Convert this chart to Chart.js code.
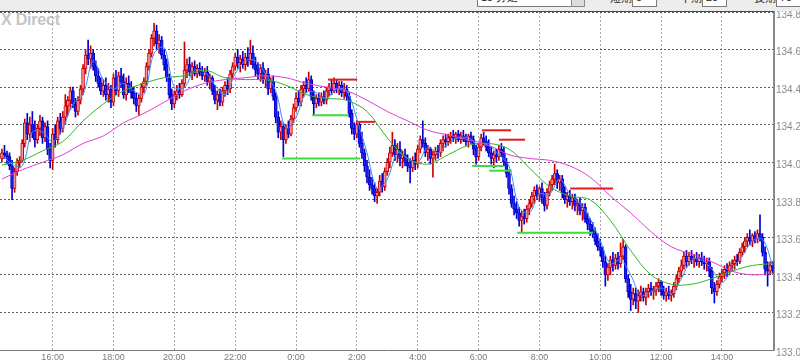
<!DOCTYPE html>
<html><head><meta charset="utf-8">
<script src="https://cdn.jsdelivr.net/npm/chart.js@4.4.0/dist/chart.umd.min.js"></script>
<style>
html,body{margin:0;padding:0;background:#fff;overflow:hidden}
#wrap{position:relative;width:800px;height:362px;overflow:hidden;font-family:"Liberation Sans",Arial,sans-serif}
#strip{position:absolute;left:0;top:0;width:800px;height:11px;background:#ececec;overflow:hidden}
#topline{position:absolute;left:0;top:11px;width:774px;height:1px;background:#4a4a4a}
#wm{position:absolute;left:1px;top:11px;font:bold 16px "Liberation Sans",Arial,sans-serif;color:#c4c4c4;letter-spacing:-0.2px}
canvas{position:absolute;left:0;top:0}
.box{position:absolute;top:-10px;height:17px;background:#fff;border:1px solid #7c7c7c;box-sizing:border-box;font:11px "Liberation Sans",Arial,sans-serif;line-height:13px;padding-left:3px;color:#222}
.lbl{position:absolute;top:-11px;font:11px "Noto Sans CJK JP",sans-serif;color:#222}
.btn{position:absolute;top:-10px;height:17px;width:14px;background:#dcdcdc;border:1px solid #8a8a8a;box-sizing:border-box}
</style></head>
<body>
<div id="wrap">
  <div id="wm">X Direct</div>
  <canvas id="c" width="800" height="362"></canvas>
  <div id="strip">
    <div class="box" style="left:477px;width:95px">15 分足</div>
    <div class="btn" style="left:571px"></div>
    <div class="lbl" style="left:610px">短期</div>
    <div class="box" style="left:632px;width:25px">5</div>
    <div class="lbl" style="left:680px">中期</div>
    <div class="box" style="left:702px;width:25px">25</div>
    <div class="lbl" style="left:754px">長期</div>
    <div class="box" style="left:776px;width:26px">75</div>
  </div>
  <div id="topline"></div>
</div>
<script>
// 5-minute candles starting 14:20 (hours, day 1; 24 = 0:00 next day)
const candleStart = 14 + 20/60;
const candleMinutes = 5;

const open = [
134.02,134.05,134.04,134.03,133.98,133.86,133.95,134.00,134.01,134.10,
134.21,134.15,134.20,134.16,134.12,134.18,134.22,134.13,134.19,134.07,
134.01,134.15,134.12,134.22,134.18,134.24,134.30,134.33,134.38,134.31,
134.27,134.33,134.39,134.50,134.57,134.55,134.58,134.51,134.46,134.42,
134.38,134.41,134.36,134.39,134.32,134.45,134.38,134.46,134.43,134.36,
134.42,134.40,134.37,134.34,134.30,134.34,134.40,134.43,134.51,134.58,
134.66,134.70,134.63,134.65,134.57,134.52,134.45,134.36,134.31,134.36,
134.38,134.36,134.42,134.49,134.52,134.48,134.51,134.47,134.50,134.48,
134.46,134.48,134.43,134.45,134.38,134.33,134.36,134.32,134.38,134.41,
134.39,134.47,134.51,134.56,134.53,134.55,134.52,134.56,134.54,134.58,
134.52,134.49,134.47,134.50,134.44,134.47,134.39,134.43,134.35,134.24,
134.16,134.19,134.12,134.18,134.15,134.23,134.29,134.34,134.32,134.39,
134.41,134.39,134.44,134.35,134.31,134.34,134.32,134.35,134.33,134.38,
134.40,134.38,134.42,134.39,134.41,134.37,134.39,134.35,134.26,134.18,
134.15,134.20,134.10,134.05,133.98,133.92,133.88,133.86,133.82,133.84,
133.90,133.87,133.95,134.00,134.05,134.09,134.04,134.07,134.02,134.04,
134.00,133.98,133.97,134.01,133.99,134.07,134.12,134.10,134.05,134.07,
134.02,134.04,134.06,134.05,134.10,134.12,134.11,134.13,134.14,134.13,
134.15,134.12,134.14,134.13,134.11,134.14,134.12,134.07,134.03,134.08,
134.13,134.11,134.08,134.05,134.02,134.04,134.03,134.07,134.05,134.00,
133.94,133.86,133.78,133.75,133.73,133.69,133.71,133.70,133.75,133.78,
133.82,133.85,133.83,133.86,133.81,133.77,133.84,133.88,133.91,133.94,
133.89,133.91,133.84,133.80,133.82,133.79,133.81,133.77,133.78,133.74,
133.76,133.70,133.67,133.64,133.62,133.58,133.55,133.53,133.47,133.40,
133.44,133.48,133.45,133.49,133.46,133.50,133.55,133.38,133.31,133.27,
133.30,133.26,133.29,133.31,133.28,133.31,133.33,133.31,133.32,133.34,
133.36,133.31,133.29,133.31,133.29,133.30,133.34,133.38,133.42,133.45,
133.50,133.47,133.50,133.48,133.49,133.47,133.49,133.47,133.46,133.47,
133.42,133.33,133.31,133.35,133.39,133.41,133.43,133.42,133.45,133.46,
133.48,133.47,133.52,133.55,133.58,133.60,133.58,133.61,133.59,133.62,
133.60,133.52,133.43,133.42,133.45];

const high = [
134.07,134.09,134.06,134.05,134.01,133.97,134.02,134.03,134.12,134.23,
134.26,134.24,134.27,134.22,134.20,134.25,134.24,134.21,134.22,134.10,
134.18,134.20,134.24,134.26,134.27,134.36,134.35,134.40,134.40,134.34,
134.35,134.41,134.52,134.60,134.65,134.62,134.60,134.54,134.50,134.45,
134.44,134.45,134.42,134.41,134.47,134.49,134.48,134.50,134.47,134.45,
134.46,134.43,134.40,134.37,134.36,134.42,134.45,134.53,134.60,134.68,
134.74,134.73,134.68,134.67,134.60,134.55,134.47,134.39,134.38,134.41,
134.42,134.44,134.64,134.55,134.56,134.53,134.54,134.52,134.53,134.51,
134.50,134.51,134.47,134.46,134.41,134.38,134.39,134.40,134.43,134.45,
134.49,134.53,134.58,134.60,134.57,134.59,134.58,134.61,134.65,134.62,
134.56,134.53,134.52,134.53,134.49,134.50,134.45,134.46,134.37,134.27,
134.22,134.21,134.20,134.22,134.25,134.31,134.37,134.38,134.41,134.43,
134.45,134.48,134.46,134.38,134.36,134.37,134.37,134.38,134.40,134.42,
134.44,134.45,134.44,134.43,134.43,134.42,134.41,134.37,134.28,134.21,
134.22,134.21,134.16,134.07,134.01,133.96,133.92,133.89,133.86,133.93,
133.94,133.97,134.02,134.08,134.16,134.12,134.10,134.11,134.06,134.07,
134.04,134.02,134.03,134.05,134.09,134.14,134.22,134.13,134.09,134.08,
134.06,134.08,134.09,134.12,134.14,134.15,134.15,134.16,134.17,134.16,
134.17,134.16,134.17,134.15,134.15,134.16,134.14,134.09,134.10,134.15,
134.16,134.14,134.12,134.08,134.06,134.07,134.09,134.10,134.08,134.02,
133.96,133.88,133.82,133.79,133.76,133.74,133.75,133.77,133.80,133.84,
133.87,133.88,133.87,133.89,133.84,133.86,133.90,133.93,133.99,133.96,
133.93,133.93,133.87,133.84,133.85,133.83,133.83,133.80,133.81,133.78,
133.78,133.73,133.70,133.68,133.65,133.62,133.59,133.55,133.50,133.46,
133.50,133.52,133.51,133.52,133.57,133.59,133.56,133.40,133.35,133.33,
133.33,133.32,133.34,133.33,133.33,133.35,133.36,133.34,133.36,133.38,
133.37,133.34,133.33,133.34,133.32,133.36,133.40,133.44,133.48,133.52,
133.53,133.52,133.53,133.51,133.52,133.51,133.52,133.50,133.49,133.49,
133.44,133.36,133.37,133.41,133.43,133.45,133.46,133.47,133.48,133.50,
133.51,133.54,133.57,133.60,133.62,133.64,133.62,133.63,133.64,133.72,
133.62,133.55,133.47,133.47,133.47];

const low = [
134.00,134.02,133.99,133.96,133.80,133.84,133.93,133.97,134.00,134.08,
134.12,134.11,134.13,134.08,134.10,134.14,134.10,134.11,134.04,133.97,
133.96,134.08,134.10,134.15,134.16,134.20,134.25,134.28,134.29,134.24,
134.25,134.31,134.36,134.47,134.52,134.50,134.49,134.43,134.40,134.36,
134.35,134.33,134.32,134.29,134.30,134.36,134.35,134.40,134.34,134.33,
134.37,134.34,134.31,134.27,134.25,134.32,134.37,134.41,134.49,134.56,
134.62,134.60,134.58,134.55,134.49,134.43,134.34,134.28,134.29,134.33,
134.34,134.35,134.40,134.45,134.46,134.44,134.46,134.45,134.46,134.44,
134.43,134.41,134.39,134.36,134.31,134.28,134.30,134.30,134.35,134.36,
134.37,134.45,134.49,134.50,134.48,134.50,134.49,134.51,134.52,134.50,
134.46,134.44,134.43,134.42,134.40,134.36,134.37,134.33,134.21,134.13,
134.12,134.03,134.10,134.13,134.14,134.21,134.27,134.30,134.30,134.35,
134.37,134.38,134.33,134.25,134.29,134.30,134.30,134.31,134.31,134.35,
134.36,134.37,134.37,134.36,134.35,134.34,134.33,134.24,134.15,134.12,
134.13,134.08,134.02,133.95,133.89,133.85,133.83,133.79,133.78,133.82,
133.84,133.85,133.93,133.97,134.03,134.01,134.00,133.98,133.97,133.98,
133.95,133.89,133.95,133.96,133.97,134.05,134.08,134.03,134.01,133.99,
133.92,134.01,134.02,134.03,134.06,134.08,134.09,134.10,134.11,134.10,
134.11,134.10,134.11,134.09,134.08,134.10,134.04,133.99,134.01,134.06,
134.09,134.06,134.03,133.99,133.97,134.00,134.01,134.03,133.98,133.92,
133.83,133.76,133.72,133.70,133.66,133.63,133.67,133.68,133.72,133.76,
133.78,133.80,133.79,133.78,133.74,133.75,133.82,133.85,133.88,133.86,
133.85,133.81,133.78,133.76,133.77,133.75,133.74,133.72,133.72,133.69,
133.68,133.64,133.61,133.60,133.56,133.53,133.50,133.44,133.34,133.37,
133.40,133.42,133.43,133.43,133.44,133.48,133.36,133.28,133.21,133.24,
133.22,133.20,133.26,133.26,133.24,133.28,133.29,133.27,133.29,133.31,
133.29,133.27,133.26,133.27,133.26,133.28,133.32,133.36,133.39,133.43,
133.44,133.45,133.46,133.44,133.45,133.44,133.45,133.43,133.42,133.39,
133.30,133.25,133.29,133.33,133.36,133.38,133.39,133.40,133.42,133.43,
133.45,133.46,133.50,133.52,133.55,133.56,133.55,133.57,133.57,133.58,
133.50,133.40,133.34,133.40,133.41];

const close = [
134.05,134.04,134.03,133.98,133.86,133.95,134.00,134.01,134.10,134.21,
134.15,134.20,134.16,134.12,134.18,134.22,134.13,134.19,134.07,134.01,
134.15,134.12,134.22,134.18,134.24,134.30,134.33,134.38,134.31,134.27,
134.33,134.39,134.50,134.57,134.55,134.58,134.51,134.46,134.42,134.38,
134.41,134.36,134.39,134.32,134.45,134.38,134.46,134.43,134.36,134.42,
134.40,134.37,134.34,134.30,134.34,134.40,134.43,134.51,134.58,134.66,
134.70,134.63,134.65,134.57,134.52,134.45,134.36,134.31,134.36,134.38,
134.36,134.42,134.49,134.52,134.48,134.51,134.47,134.50,134.48,134.46,
134.48,134.43,134.45,134.38,134.33,134.36,134.32,134.38,134.41,134.39,
134.47,134.51,134.56,134.53,134.55,134.52,134.56,134.54,134.58,134.52,
134.49,134.47,134.50,134.44,134.47,134.39,134.43,134.35,134.24,134.16,
134.19,134.12,134.18,134.15,134.23,134.29,134.34,134.32,134.39,134.41,
134.39,134.44,134.35,134.31,134.34,134.32,134.35,134.33,134.38,134.40,
134.38,134.42,134.39,134.41,134.37,134.39,134.35,134.26,134.18,134.15,
134.20,134.10,134.05,133.98,133.92,133.88,133.86,133.82,133.84,133.90,
133.87,133.95,134.00,134.05,134.09,134.04,134.07,134.02,134.04,134.00,
133.98,133.97,134.01,133.99,134.07,134.12,134.10,134.05,134.07,134.02,
134.04,134.06,134.05,134.10,134.12,134.11,134.13,134.14,134.13,134.15,
134.12,134.14,134.13,134.11,134.14,134.12,134.07,134.03,134.08,134.13,
134.11,134.08,134.05,134.02,134.04,134.03,134.07,134.05,134.00,133.94,
133.86,133.78,133.75,133.73,133.69,133.71,133.70,133.75,133.78,133.82,
133.85,133.83,133.86,133.81,133.77,133.84,133.88,133.91,133.94,133.89,
133.91,133.84,133.80,133.82,133.79,133.81,133.77,133.78,133.74,133.76,
133.70,133.67,133.64,133.62,133.58,133.55,133.53,133.47,133.40,133.44,
133.48,133.45,133.49,133.46,133.50,133.55,133.38,133.31,133.27,133.30,
133.26,133.29,133.31,133.28,133.31,133.33,133.31,133.32,133.34,133.36,
133.31,133.29,133.31,133.29,133.30,133.34,133.38,133.42,133.45,133.50,
133.47,133.50,133.48,133.49,133.47,133.49,133.47,133.46,133.47,133.42,
133.33,133.31,133.35,133.39,133.41,133.43,133.42,133.45,133.46,133.48,
133.47,133.52,133.55,133.58,133.60,133.58,133.61,133.59,133.62,133.60,
133.52,133.43,133.42,133.45,133.44];

// short MA (blue), one value every 4 candles
const maShortStep = 4;
const maShort = [
134.04,133.99,133.98,134.16,134.16,134.11,134.18,134.31,134.36,134.54,
134.44,134.39,134.42,134.38,134.36,134.58,134.61,134.40,134.40,134.49,
134.48,134.41,134.36,134.47,134.54,134.54,134.47,134.38,134.18,134.24,
134.37,134.37,134.34,134.39,134.38,134.23,134.05,133.86,133.91,134.05,
134.02,134.00,134.08,134.05,134.10,134.13,134.13,134.09,134.09,134.04,
133.98,133.76,133.73,133.83,133.83,133.91,133.83,133.78,133.70,133.58,
133.46,133.48,133.40,133.29,133.31,133.33,133.30,133.38,133.48,133.48,
133.43,133.36,133.43,133.50,133.58,133.59,133.45];

// medium MA (green) and long MA (magenta), one value every 8 candles
const maLongStep = 8;
const maMid = [
133.985,134.01,134.06,134.11,134.22,134.31,134.38,134.42,134.45,134.46,
134.49,134.45,134.44,134.44,134.41,134.36,134.34,134.33,134.27,134.13,
134.02,133.99,134.04,134.09,134.10,134.07,133.97,133.87,133.82,133.80,
133.69,133.53,133.40,133.35,133.35,133.38,133.42,133.45,133.46];
const maLong = [
133.91,133.96,134.00,134.04,134.10,134.14,134.21,134.26,134.32,134.38,
134.42,134.44,134.45,134.46,134.45,134.42,134.40,134.38,134.33,134.27,
134.22,134.17,134.145,134.12,134.09,134.04,134.02,134.01,133.98,133.92,
133.82,133.73,133.63,133.55,133.51,133.47,133.42,133.40,133.41];

// horizontal level segments (hours)
const redLevels = [134.44, 134.215, 134.17, 134.12, 133.86];
const redFrom   = [25.05, 26.04, 30.11, 30.67, 33.01];
const redTo     = [26.01, 26.60, 31.07, 31.53, 34.42];
const greenLevels = [134.02, 134.25, 133.98, 133.955, 133.625];
const greenFrom   = [23.54, 24.53, 29.79, 30.35, 31.27];
const greenTo     = [26.10, 25.71, 30.81, 31.10, 33.76];

// axes
const xTickHours  = [16,18,20,22,24,26,28,30,32,34,36,38];
const xTickLabels = ["16:00","18:00","20:00","22:00","0:00","2:00","4:00","6:00","8:00","10:00","12:00","14:00"];
const yTicks = [133.0,133.2,133.4,133.6,133.8,134.0,134.2,134.4,134.6,134.8];
const xMin = 14.27, xMax = 39.71;

const tAt = i => candleStart + i * candleMinutes / 60;
const isUp = i => close[i] >= open[i];

const datasets = [];
datasets.push({
  type:'bar', label:'wick', order:20, grouped:false, barThickness:1,
  data: high.map((h,i)=>({x:tAt(i), y:[low[i], h]})),
  backgroundColor: c => isUp(c.dataIndex) ? '#c80000' : '#0000d0',
  borderWidth:0
});
datasets.push({
  type:'bar', label:'body', order:10, grouped:false, barThickness:3, minBarLength:1,
  data: open.map((o,i)=>({x:tAt(i), y:[o, close[i]]})),
  backgroundColor: c => isUp(c.dataIndex) ? '#f29a9a' : '#1f1ff5',
  borderColor: c => isUp(c.dataIndex) ? '#cc0000' : '#0000c4',
  borderWidth:1, borderSkipped:false
});
const lineBase = {type:'line', pointRadius:0, borderWidth:1, fill:false, tension:0.35};
datasets.push(Object.assign({}, lineBase, {label:'short', order:5, borderColor:'#3f8cff',
  data: maShort.map((v,k)=>({x:tAt(k*maShortStep), y:v}))}));
datasets.push(Object.assign({}, lineBase, {label:'mid', order:4, borderColor:'#2db52d',
  data: maMid.map((v,k)=>({x:tAt(k*maLongStep), y:v}))}));
datasets.push(Object.assign({}, lineBase, {label:'long', order:3, borderColor:'#e03cd6',
  data: maLong.map((v,k)=>({x:tAt(k*maLongStep), y:v}))}));
redLevels.forEach((v,k)=>datasets.push({type:'line', order:1, pointRadius:0, borderWidth:2, borderColor:'#e41b1b', tension:0,
  data:[{x:redFrom[k],y:v},{x:redTo[k],y:v}]}));
greenLevels.forEach((v,k)=>datasets.push({type:'line', order:1, pointRadius:0, borderWidth:2, borderColor:'#3ddc3d', tension:0,
  data:[{x:greenFrom[k],y:v},{x:greenTo[k],y:v}]}));

new Chart(document.getElementById('c'), {
  type:'bar',
  data:{datasets},
  options:{
    responsive:false, animation:false, devicePixelRatio:1,
    layout:{padding:{top:12,left:0,right:0,bottom:0}},
    plugins:{legend:{display:false}, tooltip:{enabled:false}},
    scales:{
      x:{type:'linear', min:xMin, max:xMax, offset:false,
        afterBuildTicks: s => { s.ticks = xTickHours.map(v=>({value:v})); },
        afterFit: s => { s.height = 12; },
        ticks:{autoSkip:false, maxRotation:0, padding:2, color:'#7a7a7a',
          font:{family:'Liberation Sans', size:9},
          callback:(v)=>{ const k = xTickHours.indexOf(v); return k>=0 ? xTickLabels[k] : ''; }},
        grid:{offset:false, color:'#a9a9a9', drawTicks:false, lineWidth:1},
        border:{display:true, color:'#7a7a7a', width:1, dash:[2,2]}
      },
      y:{type:'linear', position:'right', min:133.0, max:134.8, beginAtZero:false,
        afterBuildTicks: s => { s.ticks = yTicks.map(v=>({value:v})); },
        afterFit: s => { s.width = 26; },
        ticks:{autoSkip:false, padding:2, labelOffset:3, color:'#8a8a8a',
          font:{family:'Liberation Sans', size:10},
          callback:(v)=>Number(v).toFixed(1)},
        grid:{color:'#5a5a5a', drawTicks:false, lineWidth:1},
        border:{display:true, color:'#8a8a8a', width:2, dash:[2,2]}
      }
    }
  }
});
</script>
</body></html>
